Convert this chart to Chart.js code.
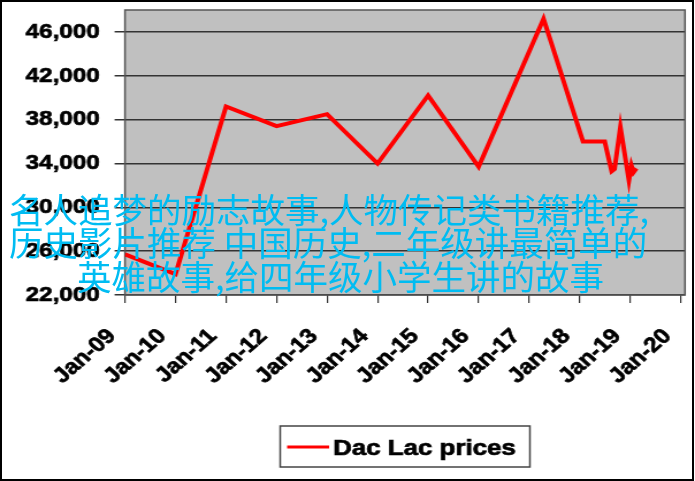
<!DOCTYPE html>
<html>
<head>
<meta charset="utf-8">
<script src="https://cdn.jsdelivr.net/npm/chart.js@4/dist/chart.umd.min.js"></script>
<style>
  body { margin: 0; background: #fff; }
  #wrap { position: relative; width: 695px; height: 481px; overflow: hidden; }
  #chart { position: absolute; left: 0; top: 0; }
  #frame { position: absolute; left: 0; top: 0; width: 694px; height: 481px; box-sizing: border-box; border: 2px solid #000; pointer-events: none; }
  .cn { position: absolute; white-space: nowrap; font-family: "Noto Sans CJK SC", sans-serif; font-size: 34.5px; line-height: 34px; color: rgb(0, 188, 242); }
</style>
</head>
<body>
<div id="wrap">
  <!-- gambar asli adalah chart lama yang direntang ke samping, jadi canvas digambar sempit lalu dilebarkan -->
  <canvas id="chart" width="604" height="481" style="width:695px;height:481px;"></canvas>
  <div id="frame"></div>
  <div class="cn" style="left:9px; top:191px;">名人追梦的励志故事,人物传记类书籍推荐,</div>
  <div class="cn" style="left:9px; top:224px;">历史影片推荐 中国历史,二年级讲最简单的</div>
  <div class="cn" style="left:77px; top:258px;">英雄故事,给四年级小学生讲的故事</div>
</div>
<script>
// Data dari gambar
const seriesName = 'Dac Lac prices';
const priceDates = ['2009-01-01', '2010-01-01', '2011-01-01', '2012-01-01', '2013-01-01', '2014-01-01',
    '2015-01-01', '2016-01-01', '2017-04-15', '2018-01-25', '2018-07-01', '2018-08-01', '2018-08-20',
    '2018-09-10', '2018-10-22', '2018-12-23', '2019-01-10', '2019-01-25', '2019-02-15'];
const priceValues = [25700, 23900, 39200, 37400, 38500, 34000,
    40200, 33700, 47200, 36000, 36000, 34300, 33300,
    33500, 37300, 32450, 33800, 33200, 33550];

const xTickLabels = ['Jan-09', 'Jan-10', 'Jan-11', 'Jan-12', 'Jan-13', 'Jan-14',
    'Jan-15', 'Jan-16', 'Jan-17', 'Jan-18', 'Jan-19', 'Jan-20'];
const yTickValues = [22000, 26000, 30000, 34000, 38000, 42000, 46000];
const xAxisStart = '2009-01-01';
const xAxisEnd = '2020-02-01';
const yAxisMin = 22000;
const yAxisMax = 48000;

// tanggal -> tahun desimal
function dateToYear(s) {
    const d = new Date(s + 'T00:00:00Z');
    const y = d.getUTCFullYear();
    const start = Date.UTC(y, 0, 1);
    const end = Date.UTC(y + 1, 0, 1);
    return y + (d.getTime() - start) / (end - start);
}

function labelToYear(label) {
    return 2000 + parseInt(label.split('-')[1], 10);
}

const points = priceDates.map((d, i) => ({ x: dateToYear(d), y: priceValues[i] }));

const boldFont = (size) => ({ family: '"Liberation Sans", Arial, sans-serif', size: size, weight: 'bold' });

// background abu-abu dan bingkai plot
const plotArea = {
    id: 'plotArea',
    beforeDraw(chart) {
        const a = chart.chartArea;
        const ctx = chart.ctx;
        ctx.save();
        ctx.fillStyle = '#c0c0c0';
        ctx.fillRect(a.left, a.top, a.right - a.left, a.bottom - a.top);
        ctx.restore();
    },
    beforeDatasetsDraw(chart) {
        const a = chart.chartArea;
        const ctx = chart.ctx;
        ctx.save();
        ctx.strokeStyle = '#555';
        ctx.lineWidth = 1.5;
        ctx.strokeRect(a.left, a.top, a.right - a.left, a.bottom - a.top);
        ctx.restore();
    }
};

// legend dengan kotak, seperti Excel
const boxLegend = {
    id: 'boxLegend',
    afterDraw(chart) {
        const ds = chart.data.datasets[0];
        const ctx = chart.ctx;
        ctx.save();
        ctx.strokeStyle = '#444';
        ctx.lineWidth = 1.5;
        ctx.strokeRect(243.5, 426, 217, 41);
        ctx.strokeStyle = ds.borderColor;
        ctx.lineWidth = 3;
        ctx.beginPath();
        ctx.moveTo(249.5, 447);
        ctx.lineTo(286, 447);
        ctx.stroke();
        ctx.fillStyle = '#000';
        ctx.strokeStyle = '#000';
        ctx.lineWidth = 0.7;
        ctx.font = 'bold 22.5px "Liberation Sans", Arial, sans-serif';
        ctx.textBaseline = 'alphabetic';
        ctx.fillText(ds.label, 289.5, 455);
        ctx.strokeText(ds.label, 289.5, 455);
        ctx.restore();
    }
};

new Chart(document.getElementById('chart').getContext('2d'), {
    type: 'line',
    data: {
        datasets: [{
            label: seriesName,
            data: points,
            borderColor: '#ff0000',
            borderWidth: 4,
            pointRadius: 0,
            tension: 0,
            fill: false
        }]
    },
    options: {
        responsive: false,
        devicePixelRatio: 1,
        animation: false,
        layout: { padding: { left: 0, top: 10, right: 8.7, bottom: 0 } },
        plugins: {
            legend: { display: false },
            tooltip: { enabled: false }
        },
        scales: {
            x: {
                type: 'linear',
                min: dateToYear(xAxisStart),
                max: dateToYear(xAxisEnd),
                afterBuildTicks(scale) {
                    scale.ticks = xTickLabels.map(l => ({ value: labelToYear(l) }));
                },
                afterFit(scale) {
                    scale.height = 186;
                    scale.paddingLeft = 0;
                    scale.paddingRight = 0;
                },
                border: { display: false },
                grid: { drawOnChartArea: false, drawTicks: true, tickLength: 8, color: '#333', lineWidth: 1.2 },
                ticks: {
                    autoSkip: false,
                    minRotation: 45,
                    maxRotation: 45,
                    padding: 21,
                    labelOffset: -11.3,
                    color: '#000',
                    textStrokeColor: '#000',
                    textStrokeWidth: 0.7,
                    font: boldFont(21),
                    callback: (v, i) => xTickLabels[i]
                }
            },
            y: {
                min: yAxisMin,
                max: yAxisMax,
                afterBuildTicks(scale) {
                    scale.ticks = yTickValues.map(v => ({ value: v }));
                },
                afterFit(scale) {
                    scale.width = 108.6;
                    scale.paddingTop = 0;
                    scale.paddingBottom = 0;
                },
                border: { display: false },
                grid: { color: '#333', lineWidth: 1.5, tickLength: 9 },
                ticks: {
                    padding: 13,
                    color: '#000',
                    textStrokeColor: '#000',
                    textStrokeWidth: 0.7,
                    font: boldFont(21),
                    callback: v => v.toLocaleString('en-US')
                }
            }
        }
    },
    plugins: [plotArea, boxLegend]
});
</script>
</body>
</html>
